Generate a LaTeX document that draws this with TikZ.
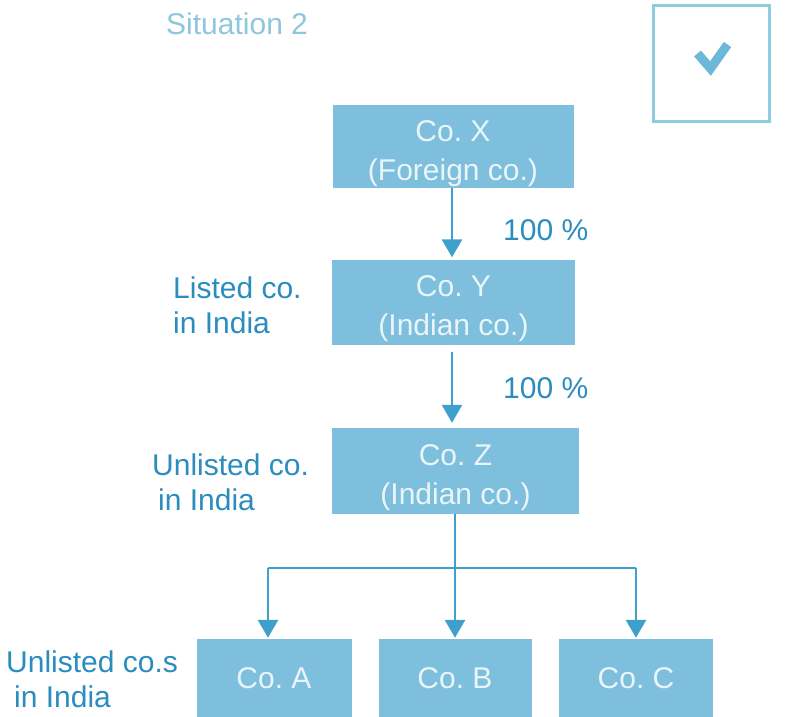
\documentclass[tikz,border=0pt]{standalone}
\usepackage{fontspec}
\setmainfont{Liberation Sans}
\usetikzlibrary{arrows.meta,calc}
\definecolor{boxfill}{HTML}{7DBFDC}
\definecolor{boxtext}{HTML}{EAF5FA}
\definecolor{labelc}{HTML}{2A8DBE}
\definecolor{arrowc}{HTML}{3FA0CE}
\definecolor{titlec}{HTML}{8EC6DE}
\definecolor{checkline}{HTML}{8FCBE0}
\definecolor{checkfill}{HTML}{6CB8D8}
\frenchspacing
\newcommand{\lowstrut}{\rule{0pt}{35pt}}
\begin{document}
\begin{tikzpicture}[x=1pt,y=-1pt,
  cobox/.style={fill=boxfill,draw=none,inner sep=0pt,text=boxtext,align=center,
    font=\fontsize{30}{39}\selectfont},
  lbl/.style={anchor=base west,inner sep=0pt,text=labelc,align=left,
    font=\fontsize{30}{35}\selectfont},
  arr/.style={draw=arrowc,line width=2.8pt,-{Triangle[width=20pt,length=18pt]}},
  ln/.style={draw=arrowc,line width=2.8pt}]
\useasboundingbox[fill=white] (0,0) rectangle (804,717);
% title and check box
\node[anchor=base west,inner sep=0pt,text=titlec,font=\fontsize{30}{35}\selectfont] (title) at (166,35) {Situation 2};
\node[draw=checkline,line width=2.5pt,minimum width=116pt,minimum height=116pt,inner sep=0pt] (chk) at (711.5,63.5) {};
\draw[draw=checkfill,line width=9pt,line join=miter] ($(chk.center)+(-14,-10)$) -- ($(chk.center)+(-1,5)$) -- ($(chk.center)+(16,-19)$);
% boxes
\node[cobox,minimum width=241pt,minimum height=83pt] (X) at (453,146.5) {\lowstrut Co. X\\(Foreign co.)};
\node[cobox,minimum width=243pt,minimum height=85pt] (Y) at (453.5,302) {\lowstrut Co. Y\\(Indian co.)};
\node[cobox,minimum width=247pt,minimum height=86pt] (Z) at (455.5,471) {\lowstrut Co. Z\\(Indian co.)};
\node[cobox,minimum width=155pt,minimum height=79pt] (A) at (274,678.5) {Co. A};
\node[cobox,minimum width=153pt,minimum height=79pt] (B) at (455,678.5) {Co. B};
\node[cobox,minimum width=154pt,minimum height=79pt] (C) at (636,678.5) {Co. C};
% labels (base anchor = baseline of last line)
\node[lbl] (pct1) at (503,240) {100 \%};
\node[lbl] (pct2) at (503,398) {100 \%};
\node[lbl] (lY) at (173,333) {Listed co.\\in India};
\node[lbl] (lZ) at (152,510) {Unlisted co.\\\hspace*{6pt}in India};
\node[lbl] (lA) at (6,707) {Unlisted co.s\\\hspace*{8pt}in India};
% connectors
\draw[arr] ($(X.south)+(-1,0)$) -- ($(Y.north)+(-1.5,-2)$);
\draw[arr] ($(Y.south)+(-1.5,7)$) -- ($(Z.north)+(-3.5,-5)$);
\coordinate (jA) at (268,568);
\coordinate (jB) at (455,568);
\coordinate (jC) at (636,568);
\draw[ln] (jA) -- (jC);
\draw[arr] (Z.south -| jB) -- ($(B.north)+(0,-1)$);
\draw[arr] (jA) -- ($(jA |- A.north)+(0,-1)$);
\draw[arr] (jC) -- ($(jC |- C.north)+(0,-1)$);
\end{tikzpicture}
\end{document}
